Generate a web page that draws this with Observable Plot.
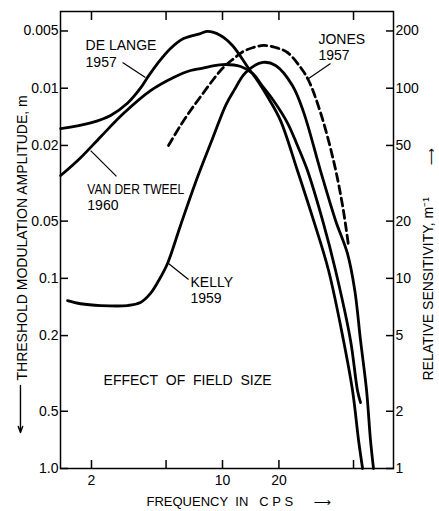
<!DOCTYPE html>
<html><head><meta charset="utf-8">
<script src="https://cdn.jsdelivr.net/npm/d3@7"></script>
<script src="https://cdn.jsdelivr.net/npm/@observablehq/plot@0.6"></script>
<style>body{margin:0;background:#fff}</style>
</head><body><div id="chart"></div>
<script>
// Frequency (cps) and threshold modulation amplitude m for each study
const deLangeFreq = [1.37, 1.98, 2.53, 3.11, 3.65, 3.98, 4.50, 5.28, 6.20, 7.63, 8.32, 9.76, 11.3, 13.8, 15.6, 17.6, 20.4, 25.1, 30.6, 36.8, 44.2, 49.4, 53.2, 55.9];
const deLangeAmp  = [0.0163, 0.0152, 0.0139, 0.0120, 0.0100, 0.00878, 0.00742, 0.00618, 0.00548, 0.00516, 0.00503, 0.00528, 0.00596, 0.00788, 0.00933, 0.0113, 0.0148, 0.0271, 0.0496, 0.0909, 0.212, 0.389, 0.712, 1.0];

const tweelFreq = [1.37, 1.75, 2.24, 2.96, 4.13, 5.48, 6.75, 7.63, 10.0, 12.5, 14.5, 16.4, 18.7, 22.2, 25.1, 28.4, 34.2, 40.1, 48.2, 52.5, 54.5];
const tweelAmp  = [0.0288, 0.0232, 0.0180, 0.0136, 0.0103, 0.00878, 0.00807, 0.00788, 0.00751, 0.00769, 0.00837, 0.0098, 0.0116, 0.0152, 0.0200, 0.0271, 0.0496, 0.0909, 0.212, 0.389, 0.450];

const kellyFreq = [1.49, 1.75, 2.24, 3.11, 3.65, 4.13, 4.56, 5.09, 5.97, 7.18, 8.85, 10.4, 11.5, 13.3, 16.4, 19.2, 23.6, 27.1, 33.3, 40.1, 46.4, 50.8, 54.5, 58.7, 61.6, 63.9];
const kellyAmp  = [0.131, 0.136, 0.139, 0.139, 0.134, 0.120, 0.103, 0.0835, 0.0527, 0.0313, 0.0184, 0.0123, 0.0103, 0.00827, 0.00732, 0.0076, 0.00968, 0.0134, 0.0271, 0.0496, 0.074, 0.116, 0.212, 0.389, 0.712, 1.0];

const jonesFreq = [5.15, 5.97, 6.75, 7.63, 8.85, 10.1, 11.5, 12.9, 14.6, 16.6, 19.2, 22.2, 26.1, 28.8, 33.3, 39.1, 43.7, 47.0];
const jonesAmp  = [0.0200, 0.0157, 0.0131, 0.0111, 0.00911, 0.00778, 0.00698, 0.00641, 0.00611, 0.00596, 0.00611, 0.00649, 0.00778, 0.00911, 0.0134, 0.024, 0.0414, 0.0672];

// Axis ticks
const freqTicks = [2, 5, 10, 20, 50];
const ampTicks = [0.005, 0.01, 0.02, 0.05, 0.1, 0.2, 0.5, 1.0];
const ampTickLabels = ["0.005", "0.01", "0.02", "0.05", "0.1", "0.2", "0.5", "1.0"];
const sensTicks = [200, 100, 50, 20, 10, 5, 2, 1];

// Curve labels (anchor in data space) and leader lines
const labelText = ["DE LANGE\n1957", "VAN DER TWEEL\n1960", "KELLY\n1959", "JONES\n1957"];
const labelFreq = [1.86, 1.90, 6.75, 32.5];
const labelAmp  = [0.00548, 0.0313, 0.0966, 0.00509];
const leaderFreq1 = [2.93, 1.98, 5.15, 28.8];
const leaderAmp1  = [0.00732, 0.0213, 0.0835, 0.00889];
const leaderFreq2 = [3.88, 2.72, 6.59, 37.7];
const leaderAmp2  = [0.00878, 0.0291, 0.1014, 0.00742];
const noteText = "EFFECT OF FIELD SIZE";
const noteFreq = 2.32, noteAmp = 0.324;

// Downward arrow beside the left axis title (annotation, in data space outside the frame)
const arrowFreq1 = [0.836];
const arrowAmp1  = [0.366];
const arrowFreq2 = [0.836];
const arrowAmp2  = [0.647];

const toRows = (fs, as) => fs.map((f, i) => ({f, m: as[i]}));
const labelRows = labelText.map((t, i) => ({t, f: labelFreq[i], m: labelAmp[i]}));
const leaderRows = leaderFreq1.map((f, i) => ({f1: f, m1: leaderAmp1[i], f2: leaderFreq2[i], m2: leaderAmp2[i]}));
const arrowRows = arrowFreq1.map((f, i) => ({af1: f, am1: arrowAmp1[i], af2: arrowFreq2[i], am2: arrowAmp2[i]}));

const curveOpts = {x: "f", y: "m", stroke: "black", strokeWidth: 2.8, curve: "catmull-rom"};
const arrowFont = "'DejaVu Sans', sans-serif";

const chart = Plot.plot({
  width: 439, height: 511,
  marginLeft: 60, marginRight: 46, marginTop: 11, marginBottom: 43,
  x: {type: "log", domain: [1.367, 81.7]},
  y: {type: "log", domain: [1, 0.00395]},
  style: {fontFamily: "'Liberation Sans', Arial, sans-serif", fontSize: "14px", background: "white", color: "black"},
  marks: [
    Plot.frame({strokeWidth: 1.5}),
    Plot.axisX(freqTicks, {anchor: "bottom", tickSize: -8, tickPadding: 15, strokeWidth: 1.5, tickFormat: d => String(d), label: null, fontSize: 14}),
    Plot.axisX(freqTicks, {anchor: "top", tickSize: -8, strokeWidth: 1.5, tickFormat: () => "", label: null}),
    Plot.axisY(ampTicks, {anchor: "left", tickSize: -8, tickPadding: 10, strokeWidth: 1.5, tickFormat: d => ampTickLabels[ampTicks.indexOf(d)], label: null, fontSize: 14}),
    Plot.axisY(sensTicks.map(s => 1 / s), {anchor: "right", tickSize: -8, tickPadding: 10, strokeWidth: 1.5, tickFormat: d => String(Math.round(1 / d)), label: null, fontSize: 14}),
    Plot.line(toRows(deLangeFreq, deLangeAmp), curveOpts),
    Plot.line(toRows(tweelFreq, tweelAmp), curveOpts),
    Plot.line(toRows(kellyFreq, kellyAmp), curveOpts),
    Plot.line(toRows(jonesFreq, jonesAmp), {...curveOpts, strokeDasharray: "8,4.5"}),
    Plot.link(leaderRows, {x1: "f1", y1: "m1", x2: "f2", y2: "m2", stroke: "black", strokeWidth: 1.2}),
    Plot.text(labelRows, {x: "f", y: "m", text: "t", textAnchor: "start", lineAnchor: "top", lineHeight: 1.17, fontSize: 14, fill: "black"}),
    Plot.text([noteText], {x: () => noteFreq, y: () => noteAmp, text: d => d.replace(/ /g, "\u00a0\u00a0"), textAnchor: "start", lineAnchor: "top", fontSize: 14, fill: "black"}),
    // axis titles
    Plot.text(["THRESHOLD MODULATION AMPLITUDE, m"], {frameAnchor: "bottom-left", rotate: -90, textAnchor: "start", lineAnchor: "middle", dx: -38, dy: -88, fontSize: 14, fill: "black"}),
    Plot.arrow(arrowRows, {x1: "af1", y1: "am1", x2: "af2", y2: "am2", stroke: "black", strokeWidth: 1.4, headLength: 7, headAngle: 40}),
    Plot.text(["RELATIVE SENSITIVITY, m\u207B\u00B9"], {ariaLabel: "title-right", frameAnchor: "bottom-right", rotate: -90, textAnchor: "start", lineAnchor: "middle", dx: 35, dy: -88, fontSize: 14, fill: "black"}),
    Plot.text(["\u27F6"], {ariaLabel: "arrow-right", frameAnchor: "bottom-right", rotate: -90, textAnchor: "start", lineAnchor: "middle", dx: 38, dy: -303, fontSize: 12, fontFamily: arrowFont, fill: "black"}),
    Plot.text(["FREQUENCY\u00a0\u00a0IN\u00a0\u00a0\u00a0C\u00a0P\u00a0S"], {frameAnchor: "bottom-left", textAnchor: "start", lineAnchor: "middle", dx: 86, dy: 33, fontSize: 13, fill: "black"}),
    Plot.text(["\u27F6"], {ariaLabel: "arrow-bottom", frameAnchor: "bottom-left", textAnchor: "start", lineAnchor: "middle", dx: 253, dy: 34, fontSize: 12, fontFamily: arrowFont, fill: "black"})
  ]
});
document.getElementById("chart").appendChild(chart);

// condense / stretch lettering to the original's proportions
function setLength(el, len) {
  el.setAttribute("textLength", len);
  el.setAttribute("lengthAdjust", "spacingAndGlyphs");
}
chart.querySelectorAll("text tspan").forEach(ts => {
  if (ts.textContent === "VAN DER TWEEL") setLength(ts, 97);
});
chart.querySelectorAll('g[aria-label="title-right"] text').forEach(t => setLength(t, 205));
// stretch the arrow glyphs along their direction to the original's long arrows
const arrowLen = {"arrow-right": 52, "arrow-bottom": 37};
for (const [name, len] of Object.entries(arrowLen)) {
  chart.querySelectorAll(`g[aria-label="${name}"] text`).forEach(t => {
    const w = t.getComputedTextLength() || 14;
    const sx = len / w;
    const tr = t.getAttribute("transform") || "";
    t.setAttribute("transform", (tr + ` scale(${sx},1)`).trim());
  });
}
</script>
</body></html>
